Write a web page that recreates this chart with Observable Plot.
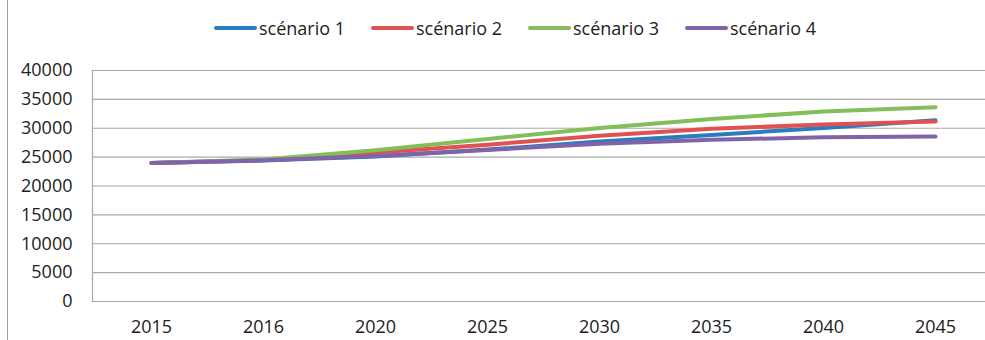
<!DOCTYPE html>
<html>
<head>
<meta charset="utf-8">
<script src="https://cdn.jsdelivr.net/npm/d3@7"></script>
<script src="https://cdn.jsdelivr.net/npm/@observablehq/plot@0.6"></script>
<style>
  html, body { margin: 0; padding: 0; background: #fff; }
  #wrap { position: relative; width: 985px; height: 340px; font-family: "Open Sans", sans-serif; color: #222; }
  #border { position: absolute; left: 7px; top: 0; width: 1px; height: 340px; background: #a0a0a0; }
  #legend { height: 55px; position: relative; }
  .item { position: absolute; top: 16px; display: flex; align-items: center; font-size: 18px; line-height: 24px; white-space: nowrap; }
  .sw { width: 43px; height: 4px; border-radius: 2px; margin-right: 2px; }
</style>
</head>
<body>
<div id="wrap">
  <div id="border"></div>
  <div id="legend"></div>
  <div id="chart"></div>
</div>
<script>
const years = ["2015", "2016", "2020", "2025", "2030", "2035", "2040", "2045"];
const seriesNames = ["scénario 1", "scénario 2", "scénario 3", "scénario 4"];
const colors = ["#2b7cbf", "#e05252", "#82bf5b", "#8064a8"];
const scenario1 = [24000, 24400, 25100, 26300, 27700, 28850, 30050, 31400];
const scenario2 = [24000, 24500, 25800, 27150, 28700, 29900, 30650, 31150];
const scenario3 = [24000, 24600, 26200, 28150, 30050, 31600, 32900, 33650];
const scenario4 = [24000, 24450, 25200, 26250, 27300, 28000, 28450, 28550];
const yTicks = [0, 5000, 10000, 15000, 20000, 25000, 30000, 35000, 40000];

const allSeries = [scenario1, scenario2, scenario3, scenario4];
const rows = [];
allSeries.forEach((vals, i) => {
  vals.forEach((v, j) => rows.push({series: seriesNames[i], year: years[j], value: v}));
});

// legend
const legend = document.getElementById("legend");
const legendLeft = [214, 371, 528, 685];
seriesNames.forEach((name, i) => {
  const it = document.createElement("div");
  it.className = "item";
  it.style.left = legendLeft[i] + "px";
  it.innerHTML = `<span class="sw" style="background:${colors[i]}"></span><span>${name}</span>`;
  legend.appendChild(it);
});

const chart = Plot.plot({
  width: 985,
  height: 285,
  marginLeft: 92,
  marginRight: 0,
  marginTop: 15,
  marginBottom: 39,
  style: {fontFamily: "Open Sans, sans-serif", fontSize: "18px", color: "#222", background: "#fff"},
  x: {type: "point", domain: years, range: [148, 938], padding: 0, label: null},
  y: {domain: [0, 40000], ticks: yTicks, label: null},
  color: {domain: seriesNames, range: colors},
  marks: [
    Plot.gridY(yTicks, {stroke: "#a8a8a8", strokeOpacity: 1, strokeWidth: 1.2}),
    Plot.frame({anchor: "left", stroke: "#a8a8a8", strokeWidth: 1.2}),
    Plot.axisY(yTicks, {tickSize: 0, tickPadding: 20, tickFormat: d => String(d), fontSize: 18}),
    Plot.axisX({tickSize: 0, tickPadding: 19, fontSize: 18}),
    Plot.lineY(rows, {x: "year", y: "value", z: "series", stroke: "series", strokeWidth: 4, strokeLinecap: "round", strokeLinejoin: "round"})
  ]
});
document.getElementById("chart").appendChild(chart);
</script>
</body>
</html>
